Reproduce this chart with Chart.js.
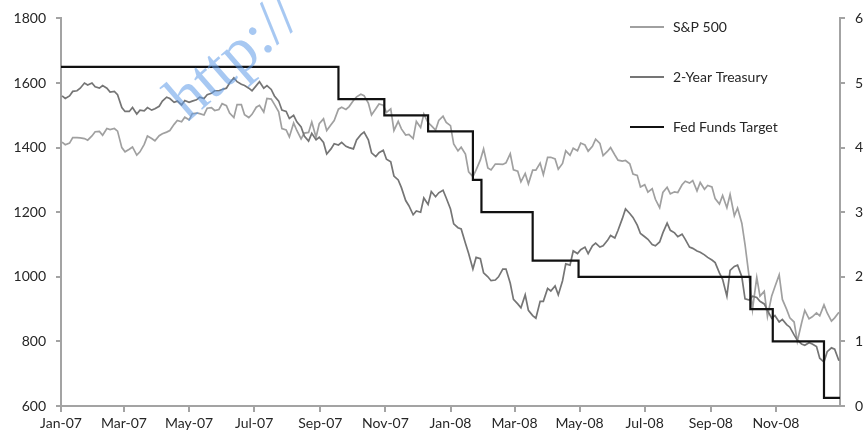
<!DOCTYPE html>
<html>
<head>
<meta charset="utf-8">
<script src="https://cdn.jsdelivr.net/npm/chart.js@4.4.1/dist/chart.umd.min.js"></script>
<style>
  html, body { margin: 0; padding: 0; background: #fff; }
  #wrap { width: 863px; height: 437px; }
</style>
</head>
<body>
<div id="wrap"><canvas id="ratesChart" width="863" height="437"></canvas></div>
<script>
        // x axis is days since 1 Jan 2007 (linear scale, no date adapter needed)
        const xTickDays = [0, 59, 120, 181, 243, 304, 365, 425, 486, 547, 609, 670];
        const xTickLabels = ["Jan-07", "Mar-07", "May-07", "Jul-07", "Sep-07", "Nov-07",
                             "Jan-08", "Mar-08", "May-08", "Jul-08", "Sep-08", "Nov-08"];

        const seriesNames = ["S&P 500", "2-Year Treasury", "Fed Funds Target"];

        // samples on Tuesdays and Fridays, 2 Jan 2007 .. 30 Dec 2008
        const sampleDays = [];
        for (let w = 0; w < 105; w++) {
            sampleDays.push(1 + 7 * w);
            if (w < 104) sampleDays.push(4 + 7 * w);
        }

        // S&P 500 index (left axis)
        const spValues = [
            1417,1409, 1414,1431, 1431,1430, 1428,1423, 1436,1449, 1450,1438, 1459,1456, 1459,1451,
            1400,1387, 1395,1402, 1377,1387, 1410,1436, 1428,1421, 1437,1443, 1448,1453, 1472,1484,
            1480,1494, 1486,1505, 1507,1505, 1501,1522, 1524,1515, 1518,1536, 1530,1507, 1493,1533,
            1533,1502, 1493,1503, 1525,1531, 1510,1552, 1550,1534, 1511,1459, 1455,1433, 1476,1453,
            1427,1445, 1447,1479, 1432,1474, 1489,1453, 1471,1484, 1519,1525, 1518,1527, 1546,1557,
            1565,1561, 1538,1501, 1520,1535, 1531,1509, 1520,1453, 1481,1458, 1439,1441, 1428,1481,
            1462,1504, 1477,1468, 1454,1484, 1497,1478, 1468,1411,
            1390,1401, 1380,1325, 1310,1331, 1362,1396, 1337,1331, 1349,1349, 1348,1353, 1381,1331,
            1327,1294, 1320,1288, 1330,1330, 1352,1316, 1370,1370, 1365,1333, 1351,1390, 1376,1398,
            1390,1414, 1408,1389, 1404,1426, 1413,1375, 1388,1400, 1377,1361, 1358,1360, 1350,1318,
            1314,1278, 1285,1262, 1273,1240, 1214,1261, 1277,1257, 1263,1261, 1285,1296, 1290,1298,
            1266,1292, 1271,1283, 1278,1242, 1225,1252, 1214,1255, 1189,1213, 1166,1100, 996,899,
            998,940, 955,877, 941,969, 1006,930, 899,873, 860,800, 857,896, 870,876,
            888,879, 913,888, 863,873, 890
        ];

        // 2-year Treasury yield, % (right axis)
        const treasuryValues = [
            4.80,4.76, 4.80,4.87, 4.88,4.92, 5.00,4.97, 5.00,4.94, 4.92,4.96, 4.92,4.86, 4.87,4.82,
            4.62,4.56, 4.56,4.62, 4.52,4.58, 4.57,4.62, 4.58,4.60, 4.64,4.72, 4.78,4.76, 4.70,4.72,
            4.66,4.73, 4.70,4.72, 4.74,4.78, 4.76,4.82, 4.84,4.88, 4.88,4.90, 4.92,5.00, 5.08,5.02,
            4.98,4.96, 4.92,4.88, 4.96,5.02, 4.92,4.96, 4.90,4.80, 4.72,4.58, 4.56,4.45, 4.50,4.40,
            4.32,4.18, 4.10,4.22, 4.12,4.16, 4.08,3.90, 3.98,4.06, 4.04,4.08, 4.02,4.00, 3.98,4.12,
            4.20,4.24, 4.12,3.92, 3.86,3.92, 3.96,3.82, 3.78,3.56, 3.50,3.38, 3.18,3.10, 2.96,3.02,
            3.00,3.22, 3.12,3.32, 3.24,3.30, 3.34,3.22, 3.05,2.82,
            2.76,2.74, 2.52,2.36, 2.12,2.30, 2.28,2.06, 2.00,1.94, 1.95,2.00, 2.12,2.12, 1.90,1.65,
            1.58,1.52, 1.72,1.48, 1.40,1.36, 1.62,1.62, 1.82,1.78, 1.86,1.72, 1.94,2.20, 2.18,2.40,
            2.36,2.42, 2.46,2.36, 2.48,2.52, 2.46,2.48, 2.56,2.64, 2.60,2.72, 2.90,3.05, 2.98,2.92,
            2.80,2.67, 2.62,2.58, 2.50,2.48, 2.54,2.68, 2.83,2.72, 2.68,2.62, 2.66,2.58, 2.46,2.44,
            2.40,2.38, 2.34,2.30, 2.26,2.22, 2.06,1.96, 1.70,2.10, 2.16,2.18, 2.00,1.66, 1.64,1.70,
            1.68,1.62, 1.58,1.48, 1.36,1.40, 1.30,1.34, 1.26,1.22, 1.10,1.02, 0.96,0.94,
            0.98,0.96, 0.92,0.74, 0.68,0.84, 0.90,0.88, 0.70
        ];

        // Fed funds target changes (day, rate %)
        const fedDays  = [0, 260, 303, 344, 386, 394, 442, 485, 646, 667, 715, 730];
        const fedRates = [5.25, 4.75, 4.50, 4.25, 3.50, 3.00, 2.25, 2.00, 1.50, 1.00, 0.125, 0.125];

        const leftMin = 600, leftMax = 1800, leftStep = 200;
        const rightMin = 0, rightMax = 6, rightStep = 1;

        const axisGray = "#a3a3a3";
        const textColor = "#262626";

        Chart.defaults.font.family = "Lato";
        Chart.defaults.font.size = 14;
        Chart.defaults.color = textColor;

        const toPoints = (days, vals) => days.map((d, i) => ({ x: d, y: vals[i] }));

        // legend stacked on the right, lines then names
        const sideLegend = {
            id: "sideLegend",
            afterDraw(chart) {
                const c = chart.ctx;
                c.save();
                c.font = "14px Lato";
                c.textBaseline = "middle";
                c.fillStyle = textColor;
                chart.data.datasets.forEach((ds, i) => {
                    const y = 27 + i * 50;
                    c.strokeStyle = ds.borderColor;
                    c.lineWidth = 2;
                    c.beginPath();
                    c.moveTo(630, y);
                    c.lineTo(664, y);
                    c.stroke();
                    c.fillText(ds.label, 673, y);
                });
                c.restore();
            }
        };

        // blue watermark text across the top left
        const watermark = {
            id: "watermark",
            afterDraw(chart) {
                const c = chart.ctx;
                c.save();
                c.translate(188, 122);
                c.rotate(-41 * Math.PI / 180);
                c.font = "64px 'Liberation Serif'";
                c.fillStyle = "rgba(95, 155, 232, 0.55)";
                c.fillText("http://", 0, 0);
                c.restore();
            }
        };

        const ctx = document.getElementById("ratesChart").getContext("2d");

        new Chart(ctx, {
            type: "line",
            data: {
                datasets: [
                    {
                        label: seriesNames[0],
                        data: toPoints(sampleDays, spValues),
                        yAxisID: "y",
                        borderColor: "#a0a0a0",
                        borderWidth: 1.7,
                        pointRadius: 0,
                        order: 2
                    },
                    {
                        label: seriesNames[1],
                        data: toPoints(sampleDays, treasuryValues),
                        yAxisID: "y1",
                        borderColor: "#757575",
                        borderWidth: 1.7,
                        pointRadius: 0,
                        order: 1
                    },
                    {
                        label: seriesNames[2],
                        data: toPoints(fedDays, fedRates),
                        yAxisID: "y1",
                        borderColor: "#111111",
                        borderWidth: 2.2,
                        pointRadius: 0,
                        stepped: "before",
                        order: 0
                    }
                ]
            },
            options: {
                responsive: false,
                animation: false,
                layout: { padding: { top: 18, left: 0, right: 0, bottom: 0 } },
                plugins: {
                    legend: { display: false },
                    tooltip: { enabled: false }
                },
                scales: {
                    x: {
                        type: "linear",
                        min: 0,
                        max: 730,
                        afterBuildTicks(scale) {
                            scale.ticks = xTickDays.map(d => ({ value: d }));
                        },
                        afterFit(scale) { scale.height = 31; },
                        ticks: {
                            autoSkip: false,
                            maxRotation: 0,
                            padding: 3,
                            callback: function(value) {
                                const i = xTickDays.indexOf(value);
                                return i >= 0 ? xTickLabels[i] : "";
                            }
                        },
                        grid: { drawOnChartArea: false, drawTicks: true, tickLength: 6, color: axisGray, lineWidth: 2 },
                        border: { color: axisGray, width: 2 }
                    },
                    y: {
                        position: "left",
                        min: leftMin,
                        max: leftMax,
                        afterFit(scale) { scale.width = 61; },
                        ticks: { stepSize: leftStep, padding: 10, callback: v => String(v) },
                        grid: { drawOnChartArea: false, drawTicks: true, tickLength: 5, color: axisGray, lineWidth: 2 },
                        border: { color: axisGray, width: 2 }
                    },
                    y1: {
                        position: "right",
                        min: rightMin,
                        max: rightMax,
                        afterFit(scale) { scale.width = 23; },
                        ticks: { stepSize: rightStep, padding: 10, callback: v => String(v) },
                        grid: { drawOnChartArea: false, drawTicks: true, tickLength: 5, color: axisGray, lineWidth: 2 },
                        border: { color: axisGray, width: 2 }
                    }
                }
            },
            plugins: [sideLegend, watermark]
        });
</script>
</body>
</html>
